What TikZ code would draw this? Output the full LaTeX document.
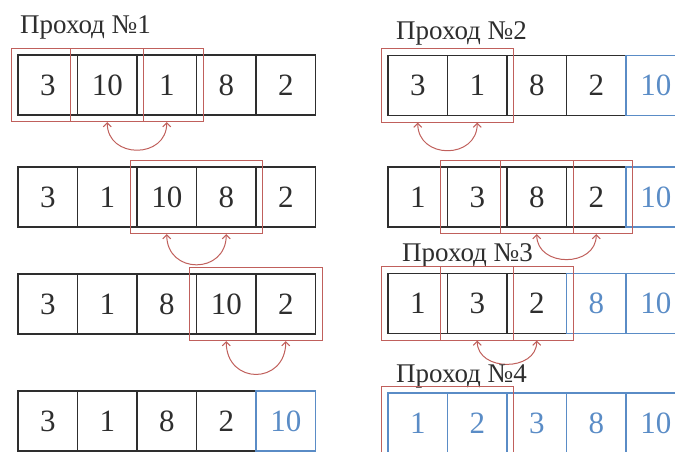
\documentclass[tikz,border=0pt]{standalone}
\usepackage{fontspec}
\setmainfont{Liberation Serif}
\usetikzlibrary{positioning,arrows.meta,fit}
\definecolor{frame}{HTML}{2E2E2E}
\definecolor{pick}{HTML}{C0605C}
\definecolor{done}{HTML}{5A8CC6}

\tikzset{
  cell/.style={draw=frame,line width=1.2pt,minimum width=59.5pt,minimum height=60pt,
               inner sep=0pt,font=\fontsize{31}{31}\selectfont,text=frame},
  sorted/.style={cell,draw=done,text=done},
  pair/.style={draw=pick,line width=1pt,inner sep=6pt},
  swap/.style={draw=pick,line width=1pt,{Straight Barb[length=4pt]}-{Straight Barb[length=4pt]},
               out=-90,in=-90,looseness=1.6},
  pass/.style={font=\fontsize{27}{27}\selectfont,text=frame,inner sep=0pt,anchor=base west}
}

\begin{document}
\begin{tikzpicture}[x=1pt,y=1pt]
\useasboundingbox (0,0) rectangle (675,452);
\clip (0,0) rectangle (675,452);

% pass 1
\node[pass] (p1) at (20,418) {Проход №1};
\foreach \v/\s [count=\i] in {3/cell,10/cell,1/cell,8/cell,2/cell}
  \node[\s] (La\i) at ({18+59.5*\i-29.75},367) {\v};
\node[pair,fit=(La1)(La2)] (La12) {};
\node[pair,fit=(La2)(La3)] (La23) {};
\draw[swap] (La2.south |- La23.south) to (La3.south |- La23.south);

\foreach \v/\s [count=\i] in {3/cell,1/cell,10/cell,8/cell,2/cell}
  \node[\s] (Lb\i) at ({18+59.5*\i-29.75},255) {\v};
\node[pair,fit=(Lb3)(Lb4)] (Lb34) {};
\draw[swap,looseness=1.75] (Lb3.south |- Lb34.south) to (Lb4.south |- Lb34.south);

\foreach \v/\s [count=\i] in {3/cell,1/cell,8/cell,10/cell,2/cell}
  \node[\s] (Lc\i) at ({18+59.5*\i-29.75},148) {\v};
\node[pair,fit=(Lc4)(Lc5)] (Lc45) {};
\draw[swap,looseness=1.9] (Lc4.south |- Lc45.south) to (Lc5.south |- Lc45.south);

\foreach \v/\s [count=\i] in {3/cell,1/cell,8/cell,2/cell,10/sorted}
  \node[\s] (Ld\i) at ({18+59.5*\i-29.75},31) {\v};

% pass 2
\node[pass] (p2) at (396,412) {Проход №2};
\foreach \v/\s [count=\i] in {3/cell,1/cell,8/cell,2/cell,10/sorted}
  \node[\s] (Ra\i) at ({388+59.5*\i-29.75},366.5) {\v};
\node[pair,fit=(Ra1)(Ra2)] (Ra12) {};
\draw[swap] (Ra1.south |- Ra12.south) to (Ra2.south |- Ra12.south);

\foreach \v/\s [count=\i] in {1/cell,3/cell,8/cell,2/cell,10/sorted}
  \node[\s] (Rb\i) at ({388+59.5*\i-29.75},255) {\v};
\node[pair,fit=(Rb2)(Rb3)] (Rb23) {};
\node[pair,fit=(Rb3)(Rb4)] (Rb34) {};
\draw[swap,looseness=1.45] (Rb3.south |- Rb34.south) to (Rb4.south |- Rb34.south);

% pass 3
\node[pass] (p3) at (402,190) {Проход №3};
\foreach \v/\s [count=\i] in {1/cell,3/cell,2/cell,8/sorted,10/sorted}
  \node[\s] (Rc\i) at ({388+59.5*\i-29.75},148.5) {\v};
\node[pair,fit=(Rc1)(Rc2)] (Rc12) {};
\node[pair,fit=(Rc2)(Rc3)] (Rc23) {};
\draw[swap,looseness=1.35] (Rc2.south |- Rc23.south) to (Rc3.south |- Rc23.south);

% pass 4
\node[pass] (p4) at (396,69) {Проход №4};
\foreach \v/\s [count=\i] in {1/sorted,2/sorted,3/sorted,8/sorted,10/sorted}
  \node[\s] (Rd\i) at ({388+59.5*\i-29.75},29) {\v};
\node[pair,fit=(Rd1)(Rd2)] (Rd12) {};
\end{tikzpicture}
\end{document}
